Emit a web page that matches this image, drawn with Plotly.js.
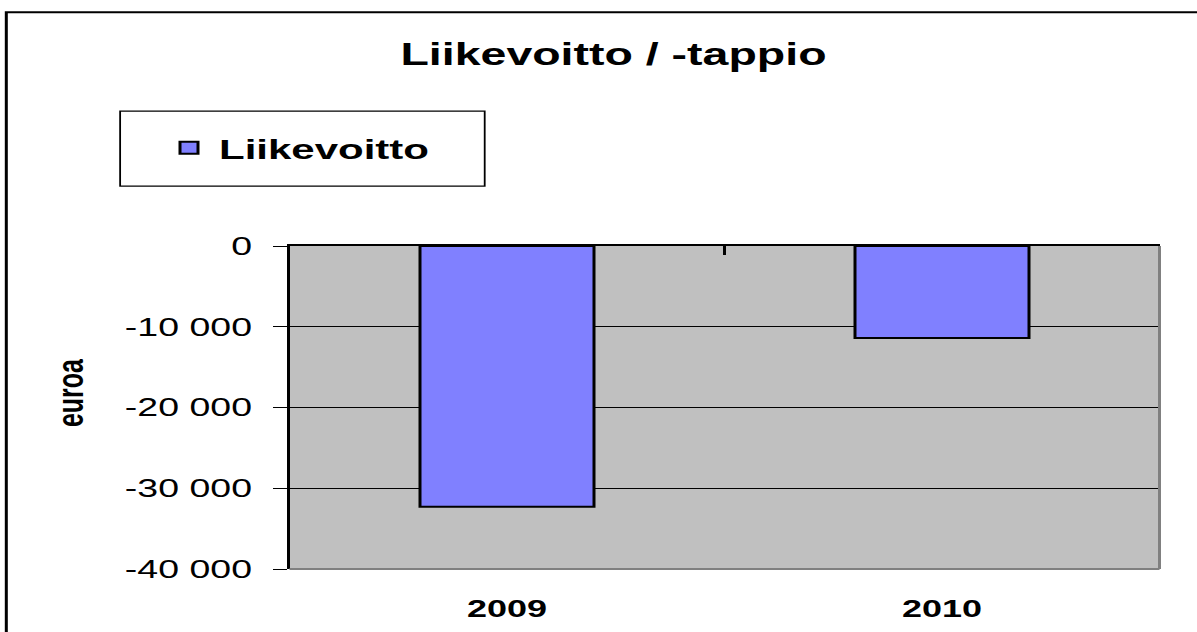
<!DOCTYPE html>
<html>
<head>
<meta charset="utf-8">
<script src="https://cdn.plot.ly/plotly-3.0.1.min.js"></script>
<style>
  html, body { margin: 0; padding: 0; background: #ffffff; overflow: hidden; }
  #chart { width: 798px; height: 632px; transform: scaleX(1.5); transform-origin: 0 0; }
</style>
</head>
<body>
<div id="chart"></div>
<script>
// ---- data ----
const years = ['2009', '2010'];
const liikevoitto = [-32300, -11400];
const yTickVals = [0, -10000, -20000, -30000, -40000];
const yTickText = ['0', '-10 000', '-20 000', '-30 000', '-40 000'];
const chartTitle = 'Liikevoitto / -tappio';
const seriesName = 'Liikevoitto';
const yTitle = 'euroa';

// ---- layout geometry (unscaled px; the page is stretched 1.5x horizontally) ----
const W = 798, H = 632;
const L = 193.3, R = 772.7, T = 246, B = 569.3;
const px = x => (x - L) / (R - L);
const py = y => (B - y) / (B - T);
const FONT = 'Liberation Sans, Arial, sans-serif';

const boundaries = years.map((_, i) => i - 0.5).concat([years.length - 0.5]);

const traces = [
  {
    type: 'bar',
    x: years,
    y: liikevoitto,
    name: seriesName,
    marker: { color: '#8080ff', line: { color: '#000000', width: 2 } },
    hoverinfo: 'skip'
  },
  {
    type: 'scatter',
    x: [], y: [],
    xaxis: 'x2', yaxis: 'y',
    showlegend: false, hoverinfo: 'skip'
  }
];

const layout = {
  width: W, height: H,
  margin: { l: L, r: W - R, t: T, b: H - B, pad: 0, autoexpand: false },
  paper_bgcolor: '#ffffff',
  plot_bgcolor: '#c0c0c0',
  font: { family: FONT, color: '#000000' },
  title: {
    text: chartTitle,
    font: { family: FONT, size: 31, weight: 'bold', color: '#000000' },
    xref: 'container', x: 409 / W, xanchor: 'center',
    yref: 'container', y: 1 - 54 / H, yanchor: 'middle',
    automargin: false
  },
  bargap: 0.6,
  showlegend: true,
  legend: {
    xref: 'container', x: 106 / W, xanchor: 'left',
    yref: 'container', y: 1 - 148 / H, yanchor: 'middle',
    bgcolor: 'rgba(0,0,0,0)', borderwidth: 0,
    font: { family: FONT, size: 28, weight: 'bold', color: '#000000' }
  },
  xaxis: {
    type: 'category',
    range: [-0.5, years.length - 0.5],
    automargin: false,
    showline: false, showgrid: false, zeroline: false,
    ticks: '', ticklen: 0,
    tickfont: { family: FONT, size: 24, weight: 'bold', color: '#000000' },
    ticklabelstandoff: 23,
    fixedrange: true
  },
  xaxis2: {
    overlaying: 'x', anchor: 'y', side: 'top', type: 'linear',
    range: [-0.5, years.length - 0.5],
    automargin: false,
    tickmode: 'array', tickvals: boundaries,
    ticks: 'inside', ticklen: 9, tickwidth: 1.5, tickcolor: '#000000',
    showticklabels: false, showgrid: false, zeroline: false,
    showline: true, linecolor: '#000000', linewidth: 2,
    fixedrange: true
  },
  yaxis: {
    range: [-40000, 0],
    automargin: false,
    tickmode: 'array', tickvals: yTickVals, ticktext: yTickText,
    ticks: 'outside', ticklen: 9, tickwidth: 1, tickcolor: '#000000',
    tickfont: { family: FONT, size: 25, color: '#000000' },
    ticklabelstandoff: 9,
    showgrid: true, gridcolor: '#000000', gridwidth: 1,
    zeroline: false,
    showline: true, linecolor: '#000000', linewidth: 2,
    fixedrange: true
  },
  annotations: [
    { text: yTitle, xref: 'paper', yref: 'paper', x: px(46.7), y: py(393),
      xanchor: 'center', yanchor: 'middle', textangle: -90, showarrow: false,
      font: { family: FONT, size: 25, weight: 'bold', color: '#000000' } }
  ],
  shapes: [
    // outer chart frame
    { type: 'rect', xref: 'paper', yref: 'paper', x0: px(4.7), x1: px(810), y0: py(650), y1: py(12),
      line: { color: '#000000', width: 2 }, fillcolor: 'rgba(0,0,0,0)' },
    // legend box
    { type: 'rect', xref: 'paper', yref: 'paper', x0: px(80.5), x1: px(323.3), y0: py(186), y1: py(111),
      line: { color: '#000000', width: 1.2 }, fillcolor: 'rgba(0,0,0,0)' },
    // plot area bottom / right borders
    { type: 'line', xref: 'paper', yref: 'paper', x0: 0, x1: 1, y0: 0, y1: 0,
      line: { color: '#808080', width: 2 } },
    { type: 'line', xref: 'paper', yref: 'paper', x0: 1, x1: 1, y0: 0, y1: 1,
      line: { color: '#808080', width: 2 } }
  ]
};

Plotly.newPlot('chart', traces, layout, { displayModeBar: false, staticPlot: true });
</script>
</body>
</html>
